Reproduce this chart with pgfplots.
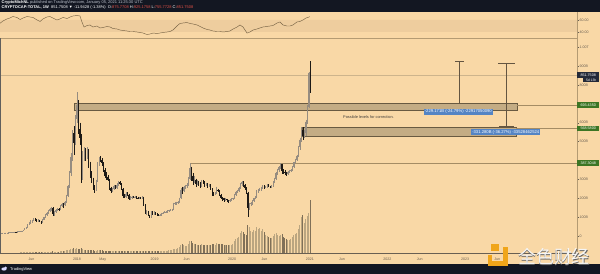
\documentclass[border=0pt]{standalone}
\usepackage{pgfplots}
\pgfplotsset{compat=1.18}
\usepackage{pgfplotstable}
\usepackage{fontspec}
\setmainfont{Liberation Sans}
\newfontfamily\cjk{Noto Sans CJK SC}
\definecolor{bg}{RGB}{249,216,166}
\definecolor{band}{RGB}{238,205,158}
\definecolor{hdr}{RGB}{19,23,34}
\definecolor{upc}{RGB}{150,140,128}
\definecolor{downc}{RGB}{30,26,22}
\definecolor{volup}{RGB}{186,165,128}
\definecolor{voldown}{RGB}{128,112,88}
\definecolor{boxfill}{RGB}{196,172,132}
\definecolor{boxdraw}{RGB}{105,90,65}
\definecolor{meas}{RGB}{100,85,65}
\definecolor{hline}{RGB}{165,140,100}
\definecolor{pline}{RGB}{205,180,140}
\definecolor{lgreen}{RGB}{60,118,36}
\definecolor{dlabel}{RGB}{36,42,56}
\definecolor{lblue}{RGB}{84,132,196}
\definecolor{tickc}{RGB}{105,95,82}
\definecolor{rsic}{RGB}{120,100,70}
\definecolor{sepc}{RGB}{180,155,115}
\definecolor{wmorange}{RGB}{240,165,25}
\definecolor{hdrred}{RGB}{225,80,70}
\definecolor{hdrgray}{RGB}{190,195,205}
\newcommand{\fs}[1]{\fontsize{#1}{#1}\selectfont}

\pgfplotstableread{
w o h l c v
0 16 18 15 17 0.5
1 17 18 16 17 0.5
2 17 19 16 18 0.5
3 18 19 17 18 0.4
4 18 20 17 19 0.5
5 19 20 18 19 0.5
6 19 21 18 20 0.5
7 20 22 19 21 0.6
8 21 23 20 22 0.7
9 22 24 21 23 0.7
10 23 25 21 24 0.8
11 24 25 21 23 0.8
12 23 26 22 25 0.8
13 25 27 24 26 0.8
14 26 29 25 28 0.9
15 28 31 27 30 0.9
16 30 35 29 34 1.0
17 34 42 33 40 1.1
18 40 50 39 48 1.2
19 48 63 46 60 1.3
20 60 78 58 72 1.5
21 72 85 65 78 1.5
22 78 88 72 82 1.4
23 82 95 80 90 1.4
24 90 96 82 86 1.3
25 86 90 78 82 1.3
26 82 90 78 85 1.2
27 85 88 76 80 1.2
28 80 82 68 75 1.2
29 75 92 73 88 1.3
30 88 104 86 100 1.4
31 100 118 96 112 1.5
32 112 130 108 125 1.6
33 125 140 118 135 1.7
34 135 150 128 142 1.8
35 142 156 135 150 1.8
36 150 155 105 120 2.2
37 120 135 110 130 1.8
38 130 142 125 138 1.6
39 138 150 132 145 1.7
40 145 150 132 140 1.8
41 140 165 138 160 2.0
42 160 178 155 170 2.2
43 170 175 152 165 2.4
44 165 185 160 180 2.6
45 180 220 176 215 3.0
46 215 272 210 265 3.4
47 265 345 255 335 3.8
48 335 440 320 420 4.2
49 420 560 400 545 4.6
50 545 580 430 495 5.0
51 495 640 480 620 4.8
52 620 760 600 695 4.9
53 695 720 540 565 4.7
54 565 600 480 520 4.4
55 520 540 280 360 5.0
56 360 450 300 430 4.2
57 430 470 400 455 3.6
58 455 466 400 420 3.2
59 420 470 410 450 3.0
60 450 460 360 380 3.1
61 380 395 310 330 3.2
62 330 345 280 300 3.0
63 300 310 245 260 2.9
64 260 270 228 245 2.7
65 245 300 240 290 2.8
66 290 390 285 380 3.2
67 380 420 370 410 3.2
68 410 425 390 405 3.0
69 405 413 370 385 2.9
70 385 390 340 350 2.8
71 350 360 310 320 2.7
72 320 340 300 315 2.6
73 315 325 290 300 2.5
74 300 305 245 255 2.6
75 255 262 228 240 2.5
76 240 258 232 250 2.3
77 250 272 245 265 2.3
78 265 270 248 255 2.2
79 255 280 252 270 2.3
80 270 292 265 285 2.5
81 285 290 270 275 2.4
82 275 280 245 250 2.3
83 250 255 205 215 2.5
84 215 225 200 210 2.3
85 210 232 205 225 2.2
86 225 232 212 220 2.1
87 220 224 190 195 2.2
88 195 212 190 205 2.1
89 205 215 198 210 2.0
90 210 212 200 205 2.0
91 205 215 200 210 2.0
92 210 214 198 205 2.0
93 205 210 195 200 1.9
94 200 210 196 205 1.9
95 205 208 195 200 1.9
96 200 212 196 205 1.9
97 205 210 160 165 2.4
98 165 170 118 125 2.8
99 125 138 115 130 2.5
100 130 135 105 110 2.4
101 110 115 97 100 2.3
102 100 132 98 125 2.6
103 125 135 115 120 2.4
104 120 132 115 125 2.3
105 125 128 112 118 2.2
106 118 122 110 115 2.2
107 115 118 105 112 2.3
108 112 120 108 113 2.2
109 113 125 110 120 2.3
110 120 128 116 125 2.4
111 125 132 122 128 2.4
112 128 134 124 130 2.5
113 130 138 126 135 2.7
114 135 141 130 138 2.9
115 138 144 134 140 3.0
116 140 146 135 140 3.2
117 140 178 138 170 4.2
118 170 182 165 175 4.4
119 175 184 168 175 4.6
120 175 186 170 180 5.0
121 180 205 176 200 6.0
122 200 255 196 245 8.5
123 245 262 225 240 9.0
124 240 268 232 260 8.0
125 260 272 248 265 7.5
126 265 280 255 270 7.8
127 270 312 265 305 9.0
128 305 387 300 360 12.5
129 360 368 290 320 12.0
130 320 335 270 290 10.5
131 290 318 282 300 9.5
132 300 305 262 275 9.0
133 275 298 270 285 8.8
134 285 292 265 280 8.5
135 280 285 255 265 8.5
136 265 298 260 290 9.0
137 290 298 278 285 8.6
138 285 290 262 270 8.4
139 270 282 265 275 8.0
140 275 280 258 265 8.2
141 265 275 260 270 8.0
142 270 274 245 250 8.5
143 250 255 215 225 9.5
144 225 232 212 220 9.0
145 220 236 216 230 8.6
146 230 262 225 245 10.0
147 245 250 232 240 9.0
148 240 244 212 220 9.2
149 220 225 198 205 9.5
150 205 210 185 200 9.0
151 200 204 180 190 8.8
152 190 200 185 195 8.2
153 195 198 182 190 8.0
154 190 194 178 185 8.4
155 185 195 182 190 8.2
156 190 200 186 195 8.5
157 195 204 190 200 9.5
158 200 225 196 220 12.0
159 220 240 215 235 14.0
160 235 246 228 240 15.0
161 240 262 235 255 16.0
162 255 280 250 275 20.0
163 275 292 265 285 22.0
164 285 290 262 270 21.0
165 270 275 245 255 19.0
166 255 260 222 230 18.0
167 230 236 100 150 28.0
168 150 178 140 170 26.0
169 170 182 160 175 22.0
170 175 190 168 185 21.0
171 185 205 180 200 23.0
172 200 212 195 205 22.0
173 205 245 200 240 26.0
174 240 250 230 245 24.0
175 245 256 238 250 25.0
176 250 262 242 255 22.0
177 255 270 250 265 24.0
178 265 270 252 260 21.0
179 260 266 255 262 18.0
180 262 275 258 270 17.0
181 270 274 260 265 16.0
182 265 268 255 260 15.0
183 260 270 256 265 15.5
184 265 290 262 285 17.0
185 285 310 280 305 19.0
186 305 340 300 335 20.0
187 335 358 325 350 18.0
188 350 370 340 365 17.0
189 365 387 355 380 18.0
190 380 384 330 345 19.0
191 345 355 330 340 16.0
192 340 350 325 335 15.0
193 335 342 320 330 14.0
194 330 345 325 340 13.0
195 340 350 332 345 13.5
196 345 355 338 350 14.0
197 350 370 345 365 16.0
198 365 395 360 390 18.0
199 390 410 385 405 19.0
200 405 430 398 425 20.0
201 425 478 420 470 24.0
202 470 520 455 510 28.0
203 510 575 500 560 36.0
204 560 578 510 530 38.0
205 530 560 520 545 30.0
206 545 615 530 605 34.0
207 605 692 595 685 37.0
208 685 870 680 863.69 40.0
209 863.69 925.18 755.77 851.75 53.0
}\candles

\pgfplotstableread{
w r
0.4 54.5
2.4 58.3
5.1 61.7
7.1 63.3
9.1 65.8
11.8 64.2
13.9 60.8
15.9 63.3
18.6 65.8
20.6 65.0
22.6 64.2
25.3 60.0
27.3 57.5
29.3 61.7
32.0 65.0
34.0 65.8
36.0 63.3
38.7 60.0
40.7 61.7
42.8 64.2
45.5 62.5
47.5 65.0
49.5 66.7
52.2 67.5
54.2 66.7
55.5 56.7
56.9 48.3
58.9 50.8
60.9 51.7
62.9 48.3
65.6 50.0
67.6 46.7
69.7 47.5
72.4 49.2
74.4 48.3
76.4 45.8
79.1 45.0
81.1 43.3
83.1 42.5
85.8 41.7
87.8 40.8
89.8 40.8
92.5 40.0
94.5 39.2
96.6 38.3
99.2 35.8
101.3 36.7
103.3 38.3
106.0 37.5
108.0 38.3
110.0 39.2
112.7 40.0
114.7 40.8
116.7 43.3
119.4 50.0
121.4 54.2
123.5 55.0
126.1 55.8
128.2 54.2
130.2 53.3
132.9 51.7
134.9 49.2
136.9 46.7
139.6 44.2
141.6 43.3
143.6 41.7
146.3 40.8
148.3 40.8
150.4 40.0
153.0 40.8
155.1 41.7
157.1 45.0
159.8 48.3
161.8 51.7
163.8 48.3
166.5 38.3
168.5 40.0
170.5 43.3
173.2 45.0
175.2 46.7
177.2 48.3
179.9 49.2
181.9 50.0
184.0 50.8
186.7 55.0
188.7 56.7
190.7 51.7
193.4 50.0
195.4 50.0
197.4 51.7
200.1 56.7
202.1 57.5
204.1 60.0
206.2 63.3
208.8 65.5
}\rsidata

\begin{document}
\begin{tikzpicture}[x=1bp,y=1bp]
\useasboundingbox (0bp,0bp) rectangle (600bp,274bp);
\clip (0bp,0bp) rectangle (600bp,274bp);
\fill[bg] (0bp,0bp) rectangle (600bp,274bp);

% ---------- RSI pane ----------
\begin{axis}[at={(0bp,236bp)}, anchor=south west, scale only axis, width=577bp, height=25bp,
  xmin=0.403, xmax=388.4, ymin=30, ymax=71.67,
  axis line style={draw=none}, xtick=\empty,
  ytick={40,60}, yticklabels={40.00,60.00}, ytick pos=right, yticklabel pos=right,
  tick align=outside, major tick length=2bp,
  ytick style={draw=tickc, line width=0.3bp},
  yticklabel style={font=\fs{3.6}, text=tickc, anchor=west, inner sep=0.5bp}]
\addplot[draw=none, fill=band] coordinates {(0.403,40) (388.4,40) (388.4,60) (0.403,60) (0.403,40)};
\addplot[draw=rsic, line width=0.45bp, mark=none] table[x=w,y=r] {\rsidata};
\end{axis}

% ---------- volume ----------
\begin{axis}[at={(0bp,20bp)}, anchor=south west, scale only axis, width=577bp, height=216bp,
  xmin=0.403, xmax=388.4, ymin=-0.7, ymax=215.3, hide axis]
\addplot[ycomb, mark=none, draw=volup, line width=0.9bp,
  restrict expr to domain={\thisrow{c}-\thisrow{o}}{0:100000}] table[x=w,y=v] {\candles};
\addplot[ycomb, mark=none, draw=voldown, line width=0.9bp,
  restrict expr to domain={\thisrow{c}-\thisrow{o}}{-100000:-0.001}] table[x=w,y=v] {\candles};
\end{axis}

% ---------- price pane ----------
\begin{axis}[at={(0bp,20bp)}, anchor=south west, scale only axis, width=577bp, height=216bp,
  xmin=0.403, xmax=388.4, ymin=-92.88, ymax=1046.9, clip=false,
  axis line style={draw=none},
  xtick={21.6,52.18,69.5,104.4,125.9,156.5,178.2,208.7,230.4,260.9,282.6,313.1,334.8},
  xticklabels={Jun,2018,May,2019,Jun,2020,Jun,2021,Jun,2022,Jun,2023,Jun},
  xtick style={draw=none},
  xticklabel style={font=\fs{3.6}, text=tickc, anchor=center, inner sep=0pt, yshift=-3.5bp},
  ytick={0,100,200,300,400,500,600,700,800,900,1000},
  yticklabels={0,100B,200B,300B,{},500B,600B,{},800B,900B,1.00T},
  ytick pos=right, yticklabel pos=right,
  tick align=outside, major tick length=2bp,
  ytick style={draw=tickc, line width=0.3bp},
  yticklabel style={font=\fs{3.6}, text=tickc, anchor=west, inner sep=0.5bp}]
% last price line
\addplot[draw=pline, line width=0.4bp, mark=none] coordinates {(0.403,851.75) (388.4,851.75)};
% zones
\addplot[fill=boxfill, draw=boxdraw, line width=0.5bp, mark=none] coordinates {(50.2,668) (348,668) (348,700) (50.2,700) (50.2,668)};
\addplot[fill=boxfill, draw=boxdraw, line width=0.5bp, mark=none] coordinates {(203.5,528) (347.6,528) (347.6,575) (203.5,575) (203.5,528)};
\addplot[draw=hline, line width=0.4bp, mark=none] coordinates {(348,693.435) (388.4,693.435)};
\addplot[draw=hline, line width=0.4bp, mark=none] coordinates {(347.6,568.58) (388.4,568.58)};
\addplot[draw=hline, line width=0.5bp, mark=none] coordinates {(128.2,387.3048) (388.4,387.3048)};
% measures
\addplot[draw=meas, line width=0.45bp, mark=none] coordinates {(309.1,924.4) (309.1,700)};
\addplot[draw=meas, line width=0.45bp, mark=none] coordinates {(306.4,924.4) (312.2,924.4)};
\addplot[draw=meas, line width=0.45bp, mark=none] coordinates {(341.1,913.4) (341.1,582)};
\addplot[draw=meas, line width=0.45bp, mark=none] coordinates {(335.3,913.4) (346.7,913.4)};
\addplot[draw=meas, line width=0.45bp, mark=none] coordinates {(336.0,582) (346.2,582)};
% candles: wicks
\addplot[draw=none, mark=none, restrict expr to domain={\thisrow{c}-\thisrow{o}}{0:100000},
  error bars/.cd, y dir=minus, y explicit, error mark=none,
  error bar style={draw=upc, line width=0.4bp}]
  table[x=w, y=h, y error minus expr=\thisrow{h}-\thisrow{l}] {\candles};
\addplot[draw=none, mark=none, restrict expr to domain={\thisrow{c}-\thisrow{o}}{-100000:-0.001},
  error bars/.cd, y dir=minus, y explicit, error mark=none,
  error bar style={draw=downc, line width=0.4bp}]
  table[x=w, y=h, y error minus expr=\thisrow{h}-\thisrow{l}] {\candles};
% candles: bodies
\addplot[draw=none, mark=none, restrict expr to domain={\thisrow{c}-\thisrow{o}}{0:100000},
  error bars/.cd, y dir=minus, y explicit, error mark=none,
  error bar style={draw=upc, line width=1.05bp}]
  table[x=w, y=c, y error minus expr=\thisrow{c}-\thisrow{o}] {\candles};
\addplot[draw=none, mark=none, restrict expr to domain={\thisrow{c}-\thisrow{o}}{-100000:-0.001},
  error bars/.cd, y dir=minus, y explicit, error mark=none,
  error bar style={draw=downc, line width=1.05bp}]
  table[x=w, y=o, y error minus expr=\thisrow{o}-\thisrow{c}] {\candles};
% anchors for annotations
\coordinate (R851) at (axis cs:388.4,851.7508);
\coordinate (R828) at (axis cs:388.4,826);
\coordinate (R693) at (axis cs:388.4,693.435);
\coordinate (R568) at (axis cs:388.4,568.58);
\coordinate (R387) at (axis cs:388.4,387.3048);
\coordinate (B1) at (axis cs:308.6,658);
\coordinate (B2) at (axis cs:340.5,551);
\coordinate (T1) at (axis cs:248.2,630);
\end{axis}

% pane frame lines
\draw[sepc, line width=0.5bp] (0bp,236bp) -- (577bp,236bp);
\draw[sepc, line width=0.5bp] (577bp,20bp) -- (577bp,261.5bp);
\draw[tickc, line width=0.5bp] (0bp,20.3bp) -- (577bp,20.3bp);
\draw[downc!70, line width=0.6bp] (0.3bp,20bp) -- (0.3bp,236bp);

% annotations
\node[fill=lblue, text=white, font=\fs{4.2}, inner sep=0.9bp] at (B1) {-229.171B (-24.79\%) -22917050090};
\node[fill=lblue, text=white, font=\fs{4.2}, inner sep=0.9bp] at (B2) {-331.280B (-36.27\%) -33528462524};
\node[text=downc!85, font=\fs{3.9}] at (T1) {Possible levels for correction.};

% right price labels
\node[fill=dlabel, text=white, font=\fs{3.7}, anchor=west, minimum width=22bp, minimum height=5.2bp, inner sep=0.3bp] at (R851) {851.7508};
\node[fill=dlabel, text=white, font=\fs{3.4}, anchor=west, minimum width=16bp, minimum height=4.6bp, inner sep=0.3bp, xshift=6bp] at (R828) {5d 13h};
\node[fill=lgreen, text=white, font=\fs{3.7}, anchor=west, minimum width=22bp, minimum height=5.2bp, inner sep=0.3bp] at (R693) {693.4350};
\node[fill=lgreen, text=white, font=\fs{3.7}, anchor=west, minimum width=22bp, minimum height=5.2bp, inner sep=0.3bp] at (R568) {568.5800};
\node[fill=lgreen, text=white, font=\fs{3.7}, anchor=west, minimum width=22bp, minimum height=5.2bp, inner sep=0.3bp] at (R387) {387.3048};

% header
\fill[hdr] (0bp,261.5bp) rectangle (600bp,274bp);
\node[anchor=west, font=\fs{4}, text=white, inner sep=0pt] at (1.5bp,271.5bp) {\textbf{CryptoMichNL} \textcolor{hdrgray}{published on TradingView.com, January 05, 2021 11:25:30 UTC}};
\node[anchor=west, font=\fs{4}, text=white, inner sep=0pt] at (1.5bp,266.3bp) {\textbf{CRYPTOCAP:TOTAL, 1W} \ 851.7508 ▼ -11.9428 (-1.38\%) \ O:\textcolor{hdrred}{875.7708} H:\textcolor{hdrred}{925.1758} L:\textcolor{hdrred}{755.7728} C:\textcolor{hdrred}{851.7508}};

% footer
\fill[hdr] (0bp,0bp) rectangle (600bp,10bp);
\fill[white!85!blue] (4bp,5bp) ellipse (2.6bp and 1.6bp);
\fill[white!85!blue] (5.6bp,6.2bp) circle (1.4bp);
\node[anchor=west, font=\fs{4}, text=white, inner sep=0pt] at (10bp,5bp) {TradingView};

% watermark
\fill[wmorange] (491bp,23bp) rectangle (499bp,30bp);
\fill[wmorange] (503bp,9bp) rectangle (508bp,27bp);
\fill[wmorange] (488bp,8bp) rectangle (508bp,12.5bp);
\fill[wmorange] (488bp,12.5bp) rectangle (492bp,19bp);
\node[text=black!60, font=\cjk\fs{18}, inner sep=0pt] at (554.8bp,16.2bp) {全色财经};
\node[text=white!92!gray, font=\cjk\fs{18}, inner sep=0pt] at (554bp,17bp) {全色财经};
\end{tikzpicture}
\end{document}
